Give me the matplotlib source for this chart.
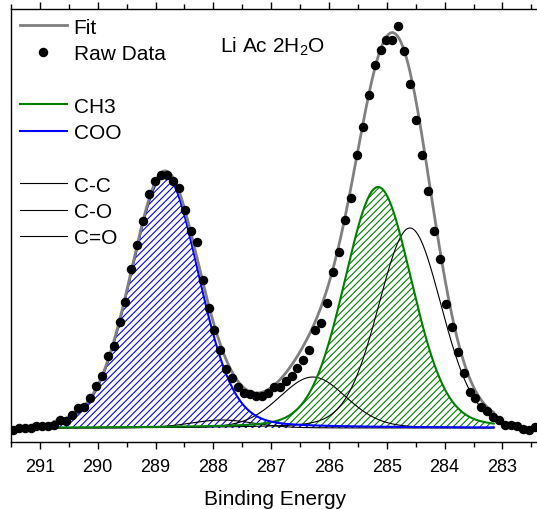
import numpy as np
import matplotlib
matplotlib.use('Agg')
import matplotlib.pyplot as plt
from matplotlib.lines import Line2D
from matplotlib.ticker import MultipleLocator

plt.rcParams['font.family'] = ['Liberation Sans', 'DejaVu Sans']
plt.rcParams['mathtext.fontset'] = 'custom'
plt.rcParams['mathtext.rm'] = 'Liberation Sans'
plt.rcParams['mathtext.it'] = 'Liberation Sans:italic'
plt.rcParams['hatch.linewidth'] = 0.8

# ---------------- data ----------------
raw_first_be = 291.47
raw_last_be = 282.44
raw_counts = [-1.7, -0.3, 0.3, 0.0, 2.3, 2.3, 2.0, 3.0, 8.3, 7.3,
              13.0, 19.7, 21.3, 30.0, 41.7, 51.7, 71.7, 82.3, 106.3, 126.0,
              159.0, 183.0, 207.3, 234.0, 247.3, 253.3, 253.3, 247.3, 240.3, 218.0,
              197.3, 185.7, 148.3, 120.0, 98.0, 78.0, 59.0, 49.7, 41.3, 34.7,
              34.0, 32.3, 32.3, 34.7, 40.7, 40.7, 46.7, 52.3, 59.7, 68.3,
              78.3, 98.0, 104.7, 125.0, 155.7, 175.7, 208.0, 229.7, 273.0, 301.3,
              333.3, 363.0, 378.3, 388.3, 388.3, 401.7, 376.7, 344.0, 308.0, 273.0,
              236.7, 196.7, 169.0, 124.0, 101.3, 75.7, 54.7, 36.3, 30.0, 20.7,
              17.3, 10.7, 8.3, 3.3, 3.3, 2.3, -1.0, -1.7, 0.7]

peak_names = ['COO', 'CH3', 'C-C', 'C-O', 'C=O']
peak_centers = [288.84, 285.15, 284.60, 286.28, 287.85]
peak_heights = [253.0, 241.0, 200.0, 51.0, 8.0]
peak_sigmas = [0.59, 0.585, 0.55, 0.58, 0.55]
lorentz_fraction = 0.15
fit_start, fit_end = 290.75, 283.15

x_ticks = [291, 290, 289, 288, 287, 286, 285, 284, 283]
x_label = 'Binding Energy'
title_text = 'Li Ac 2H$_\\mathrm{2}$O'

# ---------------- model ----------------
def pseudo_voigt(x, c, h, s, eta):
    g = np.exp(-(x - c) ** 2 / (2 * s ** 2))
    gamma = s * np.sqrt(2 * np.log(2))
    l = 1.0 / (1.0 + ((x - c) / gamma) ** 2)
    return h * ((1 - eta) * g + eta * l)

raw_be = np.linspace(raw_first_be, raw_last_be, len(raw_counts))
xf = np.linspace(fit_start, fit_end, 800)
comps = {n: pseudo_voigt(xf, c, h, s, lorentz_fraction)
         for n, c, h, s in zip(peak_names, peak_centers, peak_heights, peak_sigmas)}
fit = sum(comps.values())

# ---------------- figure ----------------
fig = plt.figure(figsize=(5.37, 5.10), dpi=100)
ax = fig.add_axes([11 / 537, 67 / 510, 529 / 537, 433 / 510])

green = '#008000'
blue = '#0000ff'
gray = '#808080'

ax.fill_between(xf, 0, comps['CH3'], facecolor='none', edgecolor=green,
                hatch='/////', linewidth=0, zorder=1)
ax.fill_between(xf, 0, comps['COO'], facecolor='none', edgecolor=blue,
                hatch='/////', linewidth=0, zorder=1)

for n in ['C-C', 'C-O', 'C=O']:
    ax.plot(xf, comps[n], color='black', lw=0.8, zorder=2)
ax.plot(xf, comps['CH3'], color=green, lw=1.5, zorder=3)
ax.plot(xf, comps['COO'], color=blue, lw=1.5, zorder=3)
ax.plot(xf, fit, color=gray, lw=2.0, zorder=4)
ax.plot(raw_be, raw_counts, 'o', color='black', ms=5.8, mec='black', zorder=5)

ax.set_xlim(291.5, 282.35)
ax.set_ylim(-14, 419)
ax.set_xticks(x_ticks)
ax.set_xticklabels([str(t) for t in x_ticks])
ax.xaxis.set_minor_locator(MultipleLocator(0.5))
ax.set_yticks([])
ax.tick_params(axis='x', which='major', direction='out', length=5, width=1,
               labelsize=13, pad=6.5, top=True)
ax.tick_params(axis='x', which='minor', direction='out', length=3.5, width=1, top=True)
for sp in ax.spines.values():
    sp.set_linewidth(1.0)
ax.set_xlabel(x_label, fontsize=15, labelpad=10)

handles = [
    Line2D([], [], color=gray, lw=2.0),
    Line2D([], [], ls='none', marker='o', color='black', ms=5.8),
    Line2D([], [], color='none'),
    Line2D([], [], color=green, lw=1.5),
    Line2D([], [], color=blue, lw=1.5),
    Line2D([], [], color='none'),
    Line2D([], [], color='black', lw=0.8),
    Line2D([], [], color='black', lw=0.8),
    Line2D([], [], color='black', lw=0.8),
]
labels = ['Fit', 'Raw Data', ' ', 'CH3', 'COO', ' ', 'C-C', 'C-O', 'C=O']
ax.legend(handles, labels, loc='upper left', bbox_to_anchor=(0.0, 1.0),
          frameon=False, fontsize=15, handlelength=2.25, handletextpad=0.34,
          labelspacing=0.35, borderpad=0.0, borderaxespad=0.42, numpoints=1)

fig.text(220 / 537, 1 - 47 / 510, title_text, fontsize=15, ha='left', va='center')

fig.savefig('out.png', dpi=100)
